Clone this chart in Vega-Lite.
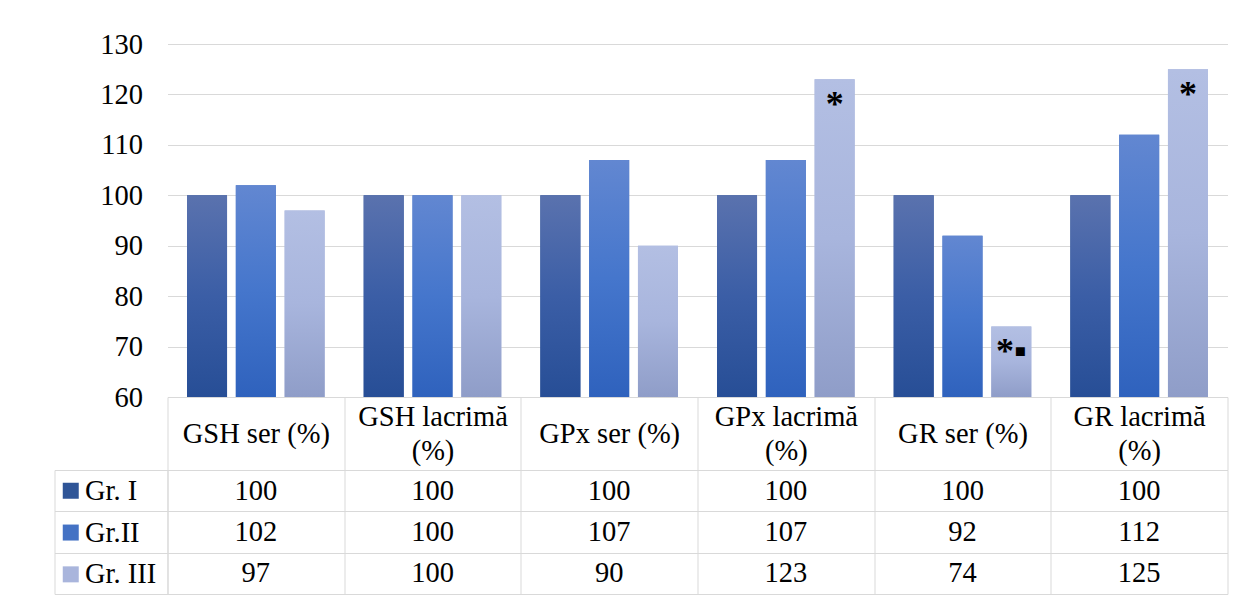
{
  "$schema": "https://vega.github.io/schema/vega-lite/v6.json",
  "background": "white",
  "padding": {"left": 53.5, "top": 30, "right": 19, "bottom": 4},
  "config": {"view": {"stroke": null}, "font": "Liberation Serif"},
  "datasets": {
    "t": [
      {"cat": "GSH ser (%)", "group": "Gr. I", "value": 100, "note": ""},
      {"cat": "GSH ser (%)", "group": "Gr.II", "value": 102, "note": ""},
      {"cat": "GSH ser (%)", "group": "Gr. III", "value": 97, "note": ""},
      {"cat": "GSH lacrimă (%)", "group": "Gr. I", "value": 100, "note": ""},
      {"cat": "GSH lacrimă (%)", "group": "Gr.II", "value": 100, "note": ""},
      {"cat": "GSH lacrimă (%)", "group": "Gr. III", "value": 100, "note": ""},
      {"cat": "GPx ser (%)", "group": "Gr. I", "value": 100, "note": ""},
      {"cat": "GPx ser (%)", "group": "Gr.II", "value": 107, "note": ""},
      {"cat": "GPx ser (%)", "group": "Gr. III", "value": 90, "note": ""},
      {"cat": "GPx lacrimă (%)", "group": "Gr. I", "value": 100, "note": ""},
      {"cat": "GPx lacrimă (%)", "group": "Gr.II", "value": 107, "note": ""},
      {"cat": "GPx lacrimă (%)", "group": "Gr. III", "value": 123, "note": "*"},
      {"cat": "GR ser (%)", "group": "Gr. I", "value": 100, "note": ""},
      {"cat": "GR ser (%)", "group": "Gr.II", "value": 92, "note": ""},
      {"cat": "GR ser (%)", "group": "Gr. III", "value": 74, "note": "*▪"},
      {"cat": "GR lacrimă (%)", "group": "Gr. I", "value": 100, "note": ""},
      {"cat": "GR lacrimă (%)", "group": "Gr.II", "value": 112, "note": ""},
      {"cat": "GR lacrimă (%)", "group": "Gr. III", "value": 125, "note": "*"}
    ]
  },
  "bounds": "flush",
  "spacing": 73,
  "vconcat": [
    {
      "width": 1060,
      "height": 353,
      "data": {"name": "t"},
      "encoding": {
        "x": {
          "field": "cat", "type": "nominal", "sort": null,
          "scale": {"domain": ["GSH ser (%)", "GSH lacrimă (%)", "GPx ser (%)", "GPx lacrimă (%)", "GR ser (%)", "GR lacrimă (%)"], "paddingInner": 0, "paddingOuter": 0},
          "axis": {
            "title": null, "orient": "bottom", "grid": false,
            "domain": true, "domainColor": "#D9D9D9", "domainWidth": 1,
            "ticks": true, "tickBand": "extent", "tickSize": 73, "tickColor": "#D9D9D9", "tickWidth": 1,
            "labelAngle": 0,
            "labelPadding": {"condition": {"test": "test(/lacrim/, datum.label)", "value": -53.5}, "value": -36.5},
            "labelBaseline": "middle", "labelAlign": "center",
            "labelFontSize": 28.5, "labelFont": "Liberation Serif", "labelColor": "black",
            "labelLineHeight": 34, "labelLimit": 0, "labelOverlap": false,
            "labelExpr": "test(/lacrim/, datum.label) ? [replace(datum.label, ' (%)', ''), '(%)'] : datum.label"
          }
        },
        "xOffset": {"field": "group", "type": "nominal", "sort": null, "scale": {"domain": ["Gr. I", "Gr.II", "Gr. III"], "paddingInner": 0.18, "paddingOuter": 0.4}},
        "y": {
          "field": "value", "type": "quantitative",
          "scale": {"domain": [60, 130], "zero": false, "nice": false},
          "axis": {
            "title": null, "values": [60, 70, 80, 90, 100, 110, 120, 130],
            "domain": false, "ticks": false, "grid": true, "gridColor": "#D9D9D9", "gridWidth": 1,
            "labelPadding": 25, "labelFontSize": 28.5, "labelFont": "Liberation Serif", "labelColor": "black"
          }
        }
      },
      "layer": [
        {
          "mark": {"type": "bar"},
          "encoding": {
            "y2": {"datum": 60},
            "color": {
              "field": "group", "type": "nominal", "sort": null,
              "scale": {"domain": ["Gr. I", "Gr.II", "Gr. III"], "range": ["#2F5597", "#4472C4", "#A9B5DC"]},
              "legend": {
                "orient": "none", "legendX": -111, "legendY": 432.5, "title": null,
                "direction": "vertical", "padding": 0,
                "symbolType": "square", "symbolSize": 256, "symbolStrokeWidth": 0, "symbolOpacity": 1,
                "labelFontSize": 28.5, "labelFont": "Liberation Serif", "labelColor": "black",
                "labelOffset": 0, "rowPadding": 12.8, "labelLimit": 0
              }
            }
          }
        },
        {
          "mark": {"type": "bar"},
          "encoding": {
            "y2": {"datum": 60},
            "fill": {
              "condition": [
                {"test": "datum.group === 'Gr. I'", "value": {"gradient": "linear", "x1": 0, "y1": 0, "x2": 0, "y2": 1, "stops": [{"offset": 0, "color": "#5A72AE"}, {"offset": 0.5, "color": "#3B5EA6"}, {"offset": 1, "color": "#274E96"}]}},
                {"test": "datum.group === 'Gr.II'", "value": {"gradient": "linear", "x1": 0, "y1": 0, "x2": 0, "y2": 1, "stops": [{"offset": 0, "color": "#6287D1"}, {"offset": 0.5, "color": "#4576CC"}, {"offset": 1, "color": "#2F62BD"}]}}
              ],
              "value": {"gradient": "linear", "x1": 0, "y1": 0, "x2": 0, "y2": 1, "stops": [{"offset": 0, "color": "#B3BFE3"}, {"offset": 0.5, "color": "#A8B5DD"}, {"offset": 1, "color": "#8F9DC8"}]}
            }
          }
        },
        {
          "transform": [{"filter": "datum.note != ''"}],
          "mark": {"type": "text", "baseline": "alphabetic", "align": "center", "dy": 37, "fontSize": 36, "fontWeight": "bold", "font": "Liberation Serif", "color": "black"},
          "encoding": {"text": {"field": "note", "type": "nominal"}}
        }
      ]
    },
    {
      "width": 1060,
      "height": 124,
      "data": {"name": "t"},
      "encoding": {
        "x": {
          "field": "cat", "type": "nominal", "sort": null,
          "scale": {"domain": ["GSH ser (%)", "GSH lacrimă (%)", "GPx ser (%)", "GPx lacrimă (%)", "GR ser (%)", "GR lacrimă (%)"], "paddingInner": 0, "paddingOuter": 0},
          "axis": {"title": null, "orient": "top", "labels": false, "ticks": false, "domain": false, "grid": true, "tickBand": "extent", "gridColor": "#D9D9D9", "gridWidth": 1}
        }
      },
      "layer": [
        {
          "mark": {"type": "text", "fontSize": 28.5, "font": "Liberation Serif", "color": "black", "baseline": "middle", "align": "center"},
          "encoding": {
            "text": {"field": "value", "type": "quantitative"},
            "y": {
              "field": "group", "type": "nominal", "sort": null,
              "scale": {"domain": ["Gr. I", "Gr.II", "Gr. III"], "paddingInner": 0, "paddingOuter": 0},
              "axis": {"title": null, "orient": "left", "labels": false, "domain": true, "domainColor": "#D9D9D9", "ticks": true, "tickBand": "extent", "tickSize": 113, "tickColor": "#D9D9D9", "tickWidth": 1, "grid": true, "gridColor": "#D9D9D9", "gridWidth": 1}
            }
          }
        },
        {
          "mark": {"type": "text", "opacity": 0, "fontSize": 28.5},
          "encoding": {
            "text": {"field": "value", "type": "quantitative"},
            "y": {
              "field": "group", "type": "nominal", "sort": null,
              "scale": {"domain": ["Gr. I", "Gr.II", "Gr. III"], "paddingInner": 0, "paddingOuter": 0},
              "axis": {"title": null, "orient": "left", "offset": 113, "labels": false, "ticks": false, "grid": false, "domain": true, "domainColor": "#D9D9D9", "domainWidth": 1}
            }
          }
        }
      ],
      "resolve": {"axis": {"y": "independent"}}
    }
  ]
}
